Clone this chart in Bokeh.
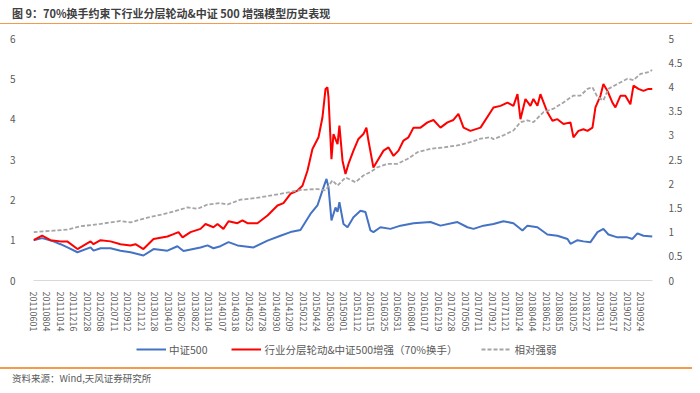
from bokeh.plotting import figure
from bokeh.models import (Range1d, LinearAxis, FixedTicker, Legend, LegendItem, Div)
from bokeh.layouts import column
from bokeh.embed import file_html
from bokeh.resources import INLINE

FONT = "Noto Sans CJK SC"

title_text = "图 9：70%换手约束下行业分层轮动&中证 500 增强模型历史表现"
source_text = "资料来源：Wind,天风证券研究所"
series_names = ["中证500", "行业分层轮动&中证500增强（70%换手）", "相对强弱"]

date_labels = [
    "20110601", "20110804", "20111014", "20111216", "20120228", "20120508",
    "20120711", "20120912", "20121121", "20130128", "20130410", "20130620",
    "20130822", "20131104", "20140107", "20140318", "20140523", "20140728",
    "20140930", "20141209", "20150212", "20150424", "20150630", "20150901",
    "20151112", "20160115", "20160325", "20160531", "20160804", "20161017",
    "20161219", "20170228", "20170505", "20170711", "20170912", "20171121",
    "20180124", "20180404", "20180612", "20180815", "20181025", "20181227",
    "20190311", "20190517", "20190722", "20190924",
]
x_end = 45.89  # position of last trading day, in label-interval units

left_ticks = [0, 1, 2, 3, 4, 5, 6]
right_ticks = [0, 0.5, 1, 1.5, 2, 2.5, 3, 3.5, 4, 4.5, 5]
right_tick_labels = ["0", "0.5", "1", "1.5", "2", "2.5", "3", "3.5", "4", "4.5", "5"]

# 中证500 (left axis)
csi_x = [0, 0.64, 1.48, 2.0, 2.52, 3.26, 4.23, 4.45, 4.97, 5.71,
         6.45, 7.19, 8.15, 8.9, 9.93, 10.67, 11.12, 12.38, 12.9, 13.34,
         13.86, 14.46, 15.12, 16.31, 17.35, 18.31, 19.05, 19.79, 20.53, 21.05,
         21.5, 21.72, 21.87, 22.09, 22.39, 22.54, 22.68, 22.98, 23.28, 23.72,
         24.24, 24.61, 24.98, 25.2, 25.72, 26.46, 27.21, 28.17, 29.43, 30.17,
         31.43, 32.17, 32.62, 33.36, 34.1, 34.84, 35.58, 36.25, 36.62, 37.36,
         38.1, 38.84, 39.59, 39.81, 40.33, 40.77, 41.29, 41.81, 42.25, 42.62,
         43.29, 44.03, 44.4, 44.77, 45.22, 45.89]
csi_v = [1.0, 1.05, 0.97, 0.9, 0.82, 0.7, 0.82, 0.74, 0.8, 0.8,
         0.74, 0.7, 0.62, 0.78, 0.74, 0.85, 0.73, 0.82, 0.87, 0.8,
         0.85, 0.95, 0.87, 0.82, 0.99, 1.11, 1.2, 1.25, 1.65, 1.86,
         2.31, 2.52, 2.31, 1.49, 1.81, 1.7, 1.94, 1.4, 1.32, 1.57,
         1.73, 1.7, 1.24, 1.2, 1.32, 1.28, 1.36, 1.42, 1.45, 1.36,
         1.45, 1.32, 1.28, 1.36, 1.4, 1.47, 1.42, 1.24, 1.36, 1.32,
         1.14, 1.11, 1.03, 0.91, 1.0, 0.97, 0.95, 1.2, 1.28, 1.14,
         1.07, 1.07, 1.03, 1.17, 1.11, 1.09]

# 行业分层轮动&中证500增强 (left axis)
model_x = [0, 0.64, 1.26, 2.0, 2.5, 3.26, 4.23, 4.45, 4.97, 5.71,
           6.45, 7.19, 7.56, 8.15, 8.9, 9.93, 10.38, 10.75, 11.05, 11.64,
           12.38, 12.75, 13.34, 13.64, 14.08, 14.46, 15.12, 15.49, 15.86, 16.6,
           17.35, 18.09, 18.53, 19.05, 19.57, 19.94, 20.31, 20.68, 21.13, 21.42,
           21.65, 21.79, 21.87, 22.09, 22.24, 22.54, 22.68, 22.91, 23.13, 23.35,
           23.72, 24.09, 24.46, 24.68, 24.83, 25.2, 25.5, 25.95, 26.32, 26.69,
           27.06, 27.43, 27.8, 28.17, 28.69, 29.21, 29.65, 30.17, 30.69, 31.13,
           31.5, 31.88, 32.39, 33.14, 34.1, 34.62, 35.14, 35.58, 35.88, 36.1,
           36.47, 36.84, 37.06, 37.36, 37.58, 38.1, 38.47, 38.84, 39.29, 39.81,
           40.03, 40.4, 40.77, 41.07, 41.44, 41.66, 42.03, 42.25, 42.55, 42.92,
           43.14, 43.51, 43.88, 44.25, 44.48, 44.85, 45.22, 45.59, 45.89]
model_v = [1.0, 1.11, 1.0, 0.97, 0.97, 0.78, 0.97, 0.9, 1.0, 0.97,
           0.9, 0.87, 0.9, 0.78, 1.03, 1.09, 1.15, 1.2, 1.07, 1.2,
           1.28, 1.4, 1.32, 1.4, 1.28, 1.47, 1.42, 1.49, 1.42, 1.42,
           1.61, 1.86, 1.92, 2.15, 2.23, 2.35, 2.72, 3.26, 3.55, 4.04,
           4.75, 4.79, 4.54, 3.01, 3.63, 3.38, 3.84, 2.97, 2.64, 2.89,
           3.22, 3.51, 3.63, 3.79, 3.47, 2.8, 2.97, 3.22, 3.3, 3.09,
           3.22, 3.47, 3.55, 3.79, 3.79, 3.92, 3.98, 3.79, 3.92, 3.98,
           4.13, 3.79, 3.71, 3.79, 4.29, 4.33, 4.41, 4.33, 4.62, 4.0,
           4.5, 4.33, 4.5, 4.33, 4.62, 4.17, 3.96, 4.0, 3.88, 3.92,
           3.55, 3.71, 3.75, 3.71, 3.79, 4.29, 4.58, 4.87, 4.7, 4.41,
           4.29, 4.58, 4.58, 4.37, 4.83, 4.75, 4.7, 4.75, 4.75]

# 相对强弱 (right axis)
rel_x = [0, 1.48, 2.52, 3.48, 4.97, 6.45, 7.19, 8.45, 9.93, 11.42,
         12.16, 12.9, 13.86, 14.38, 15.34, 16.09, 16.83, 18.31, 19.79, 21.05,
         21.65, 22.16, 22.54, 23.13, 23.87, 24.46, 24.98, 25.5, 26.24, 26.98,
         27.72, 28.47, 29.43, 30.39, 31.43, 32.39, 33.14, 33.88, 34.1, 34.84,
         35.58, 36.1, 36.62, 37.06, 37.81, 38.55, 39.29, 40.03, 40.55, 41.07,
         41.44, 41.81, 42.25, 42.62, 43.29, 44.03, 44.48, 45.0, 45.52, 45.89]
rel_v = [1.0, 1.03, 1.05, 1.12, 1.17, 1.23, 1.2, 1.3, 1.39, 1.51,
         1.48, 1.57, 1.6, 1.57, 1.67, 1.69, 1.72, 1.79, 1.87, 1.89,
         1.86, 2.07, 1.96, 2.13, 2.03, 2.17, 2.24, 2.34, 2.41, 2.41,
         2.51, 2.65, 2.72, 2.75, 2.79, 2.86, 2.93, 2.96, 2.92, 3.0,
         3.1, 3.27, 3.31, 3.27, 3.48, 3.55, 3.68, 3.82, 3.82, 3.96,
         3.99, 3.79, 3.72, 3.96, 4.06, 4.17, 4.14, 4.27, 4.3, 4.35]

ORANGE = "#F39A4B"
TXT = "#595959"
BLUE, RED, GREY = "#4472C4", "#FF0000", "#A5A5A5"
NAN = float("nan")

RULE = f'<div style="display:block;width:692px;height:1.5px;background:{ORANGE};"></div>'

# ---------- header (title + orange rule) ----------
header = Div(width=692, height=28, margin=0, text=(
    f'<div style="display:block;font-family:\'{FONT}\';font-size:11px;font-weight:bold;'
    f'color:#404040;padding-left:12px;height:22.5px;line-height:26px;'
    f'white-space:nowrap;">{title_text}</div>' + RULE))

# ---------- main chart ----------
p = figure(frame_width=619, frame_height=242,
           x_range=Range1d(0, x_end), y_range=Range1d(0, 6),
           toolbar_location=None, output_backend="svg",
           min_border_left=33, min_border_right=48, min_border_top=10,
           min_border_bottom=55)
p.extra_y_ranges = {"rel": Range1d(0, 5)}
p.grid.visible = False
p.outline_line_color = None

p.line(csi_x, csi_v, line_color=BLUE, line_width=2)
p.line(model_x, model_v, line_color=RED, line_width=2)
p.line(rel_x, rel_v, line_color=GREY, line_width=1.8,
       line_dash="4 2", y_range_name="rel")

xa = p.xaxis[0]
xa.ticker = FixedTicker(ticks=list(range(len(date_labels))))
xa.major_label_overrides = {i: s for i, s in enumerate(date_labels)}
xa.major_label_orientation = "vertical"
xa.axis_line_color = "#D9D9D9"
xa.major_tick_line_color = None
xa.minor_tick_line_color = None
xa.major_label_standoff = 5
xa.major_label_text_font = FONT
xa.major_label_text_font_size = "9px"
xa.major_label_text_color = TXT

ya = p.yaxis[0]
ya.ticker = FixedTicker(ticks=left_ticks)
ya.axis_line_color = None
ya.major_tick_line_color = None
ya.minor_tick_line_color = None
ya.major_label_standoff = 12
ya.major_label_text_font = FONT
ya.major_label_text_font_size = "10px"
ya.major_label_text_color = TXT

ra = LinearAxis(y_range_name="rel")
ra.ticker = FixedTicker(ticks=right_ticks)
ra.major_label_overrides = {t: s for t, s in zip(right_ticks, right_tick_labels)}
ra.axis_line_color = None
ra.major_tick_line_color = None
ra.minor_tick_line_color = None
ra.major_label_standoff = 10
ra.major_label_text_font = FONT
ra.major_label_text_font_size = "10px"
ra.major_label_text_color = TXT
p.add_layout(ra, "right")

# ---------- legend strip ----------
LH = 25
lg = figure(width=700, height=LH, x_range=Range1d(0, 1), y_range=Range1d(0, 1),
            toolbar_location=None, output_backend="svg",
            x_axis_location=None, y_axis_location=None, min_border=0)
lg.grid.visible = False
lg.outline_line_color = None
k1 = lg.line(x=[NAN], y=[NAN], line_color=BLUE, line_width=2)
k2 = lg.line(x=[NAN], y=[NAN], line_color=RED, line_width=2)
k3 = lg.line(x=[NAN], y=[NAN], line_color=GREY, line_width=1.8, line_dash="4 2")
legend = Legend(items=[LegendItem(label=series_names[0], renderers=[k1]),
                       LegendItem(label=series_names[1], renderers=[k2]),
                       LegendItem(label=series_names[2], renderers=[k3])],
                orientation="horizontal", location=(103, 2))
legend.border_line_color = None
legend.background_fill_alpha = 0
legend.label_text_font = FONT
legend.label_text_font_size = "10.5px"
legend.label_text_color = TXT
legend.glyph_width = 30
legend.label_standoff = 3
legend.spacing = 24
legend.margin = 0
legend.padding = 2
legend.label_height = 18
legend.glyph_height = 18
lg.add_layout(legend)

# ---------- footer (orange rule + source) ----------
footer = Div(width=692, height=33, margin=0, text=(
    '<div style="display:block;height:7px;"></div>' + RULE +
    f'<div style="display:block;font-family:\'{FONT}\';font-size:9.5px;color:{TXT};'
    f'padding-left:12px;line-height:19px;white-space:nowrap;">{source_text}</div>'))

layout = column(header, p, lg, footer, spacing=0)
open("out.html", "w").write(file_html(layout, INLINE))
